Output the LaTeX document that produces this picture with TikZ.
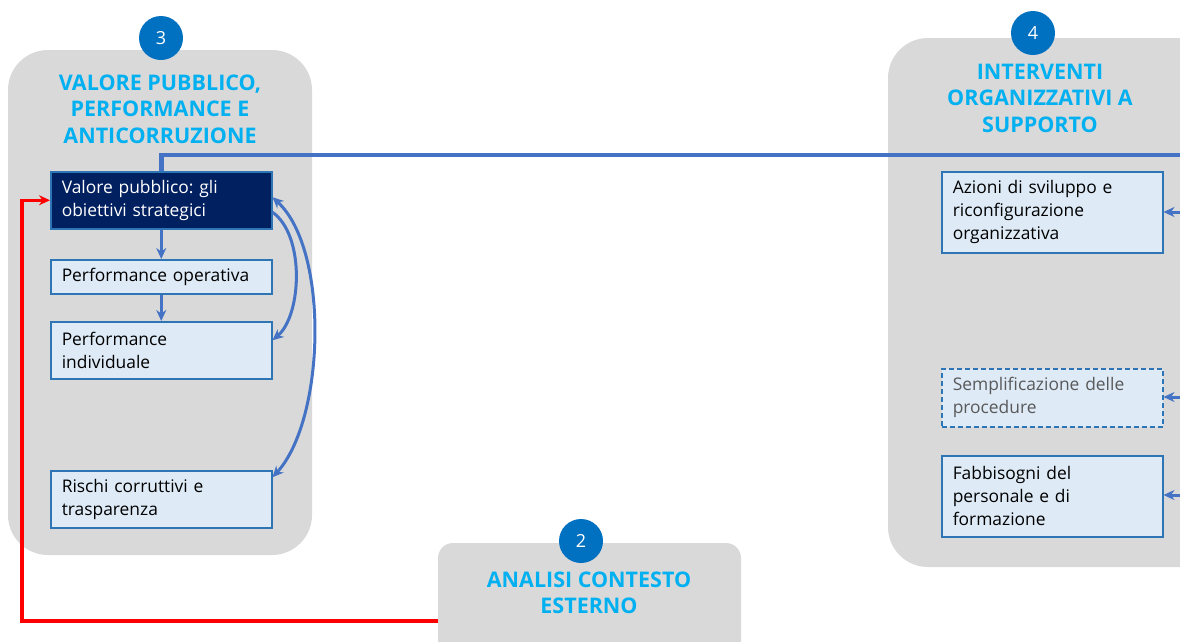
\documentclass[tikz,border=0pt]{standalone}
\usepackage{fontspec}
\setmainfont{Open Sans}
\frenchspacing
\usetikzlibrary{arrows.meta}
\definecolor{panelgray}{HTML}{D9D9D9}
\definecolor{numblue}{HTML}{0070C0}
\definecolor{titleblue}{HTML}{00B0F0}
\definecolor{boxfill}{HTML}{DEEBF7}
\definecolor{boxline}{HTML}{2E75B6}
\definecolor{navy}{HTML}{002060}
\definecolor{linkblue}{HTML}{4472C4}
\definecolor{greytext}{HTML}{595959}
\definecolor{linkred}{HTML}{FF0000}
\begin{document}
\begin{tikzpicture}[x=1pt,y=-1pt,
  panel/.style={fill=panelgray, draw=none},
  numcirc/.style={circle, fill=numblue, text=white, minimum size=44pt, inner sep=0pt, font=\fontsize{18}{20}\selectfont},
  paneltitle/.style={text=titleblue, font=\bfseries\fontsize{21.5}{26.5}\selectfont, align=center},
  itembox/.style={draw=boxline, fill=boxfill, line width=1.5pt, minimum width=221pt, text width=199pt, inner xsep=11pt, inner ysep=2pt, align=left, anchor=north west, font=\fontsize{17.4}{23}\selectfont},
  darkbox/.style={itembox, fill=navy, text=white},
  dashbox/.style={itembox, dash pattern=on 5pt off 3pt, text=greytext},
  tip/.style={-{Stealth[length=11pt,width=10pt]}},
  flow/.style={draw=linkblue, line width=3pt, tip},
  redflow/.style={draw=linkred, line width=3.5pt, -{Stealth[length=11pt,width=10pt]}},
  topline/.style={draw=linkblue, line width=4.5pt}
]
\useasboundingbox (0,0) rectangle (1180,641);
\clip (0,0) rectangle (1180,641);

% panels
\path[panel, rounded corners=40pt] (8,50) rectangle (312,555);
\path[panel, rounded corners=40pt] (888,38) rectangle (1240,567);
\path[panel, rounded corners=15pt] (438,543) rectangle (741,690);

% numbered circles
\node[numcirc] (n3) at (161,38) {3};
\node[numcirc] (n4) at (1033,33) {4};
\node[numcirc] (n2) at (581,541) {2};

% titles
\node[paneltitle] (t3) at (160,109) {VALORE PUBBLICO,\\PERFORMANCE E\\ANTICORRUZIONE};
\node[paneltitle] (t4) at (1040,98) {INTERVENTI\\ORGANIZZATIVI A\\SUPPORTO};
\node[paneltitle] (t2) at (589,593) {ANALISI CONTESTO\\ESTERNO};

% left boxes
\node[darkbox, minimum height=57pt] (v) at (50,171) {Valore pubblico: gli\\obiettivi strategici};
\node[itembox, minimum height=34pt] (po) at (50,259) {Performance operativa};
\node[itembox, minimum height=57pt] (pi) at (50,321) {Performance\\individuale};
\node[itembox, minimum height=57pt] (rc) at (50,470) {Rischi corruttivi e\\trasparenza};

% right boxes
\node[itembox, minimum height=81pt] (az) at (941,171) {Azioni di sviluppo e\\riconfigurazione\\organizzativa};
\node[dashbox, minimum height=58pt] (se) at (941,368) {Semplificazione delle\\procedure};
\node[itembox, minimum height=81pt] (fa) at (941,455) {Fabbisogni del\\personale e di\\formazione};

% coordinates for free ends
\coordinate (lineend) at (1190,155);
\coordinate (ea) at (1185,212);
\coordinate (es) at (1185,397);
\coordinate (ef) at (1185,495);
\coordinate (redstart) at (438,621);
\coordinate (redcorner) at (22,621);

% connectors
\draw[flow] (v) -- (po);
\draw[flow] (po) -- (pi);
\draw[flow] ([yshift=-12pt]v.east) .. controls (305,235) and (302,315) .. ([yshift=10pt]pi.east);
\draw[flow, {Stealth[length=11pt,width=10pt]}-{Stealth[length=11pt,width=10pt]}] ([yshift=22pt]rc.east) .. controls (325,420) and (330,250) .. ([yshift=3pt]v.east);

\draw[topline] (v.north) |- (lineend);

\draw[flow] (ea) -- (az.east |- ea);
\draw[flow] (es) -- (se.east |- es);
\draw[flow] (ef) -- (fa.east |- ef);

\draw[redflow] (redstart) -- (redcorner) |- (v.west);
\end{tikzpicture}
\end{document}
